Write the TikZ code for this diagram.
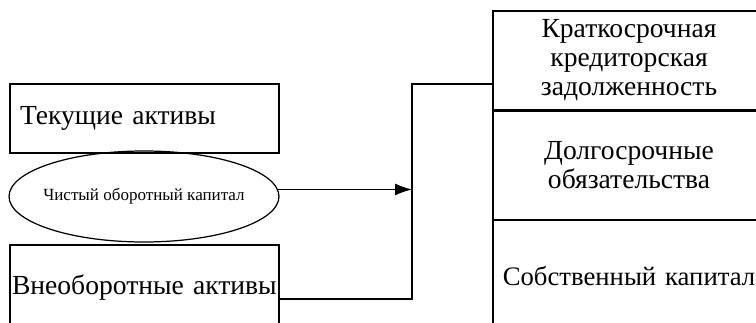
\documentclass[tikz,border=0pt]{standalone}
\usepackage{fontspec}
\setmainfont{Liberation Serif}
\usetikzlibrary{shapes,arrows,arrows.meta,positioning}
\tikzstyle{block} = [rectangle, draw, line width=0.7pt, minimum width=5.38cm,
    font=\fontsize{15.7}{16.5}\selectfont]
\tikzstyle{leftblock} = [block, text width=5.3cm, align=left, inner xsep=0.04cm]
\tikzstyle{rightblock} = [block, minimum width=5.44cm, text width=5.24cm, inner xsep=0.1cm, align=center]
\tikzstyle{capital} = [ellipse, draw, line width=0.7pt, minimum width=5.4cm, minimum height=1.82cm,
    inner xsep=-0.2cm, inner ysep=0pt, font=\fontsize{9.7}{10}\selectfont]
\tikzstyle{line} = [draw, line width=0.7pt, -{Latex[length=0.34cm,width=0.24cm]}]

\begin{document}
\begin{tikzpicture}[x=0.02cm, y=-0.02cm]
		\useasboundingbox (0,0) rectangle (756,323);
		\clip (0,0) rectangle (756,323);
		
		\node [leftblock, minimum height=1.38cm] (current) at (144.5,118.5) {\hspace{0.16cm}Текущие активы};
		\node [capital] (workcap) at (144,196.5) {Чистый оборотный капитал};
		\node [leftblock, minimum height=1.72cm] (noncurrent) at (144.5,288) {Внеоборотные активы};
		
		\node [rightblock, minimum height=1.98cm] (shortdebt) at (629,60.5) {Краткосрочная\\кредиторская\\задолженность};
		\node [rightblock, minimum height=2.16cm, below=0pt of shortdebt] (longdebt) {Долгосрочные\\обязательства};
		\node [rightblock, minimum height=2.24cm, font=\fontsize{15.2}{16.5}\selectfont, below=0pt of longdebt] (equity) {Собственный капитал};
		
		\coordinate (bend) at (412,84);
		\path [line] (workcap.3) -- (workcap.3 -| bend);
		\draw [line width=0.7pt] ([yshift=-0.22cm]noncurrent.east) -| (bend) -- (bend -| shortdebt.west);
	\end{tikzpicture}
\end{document}
